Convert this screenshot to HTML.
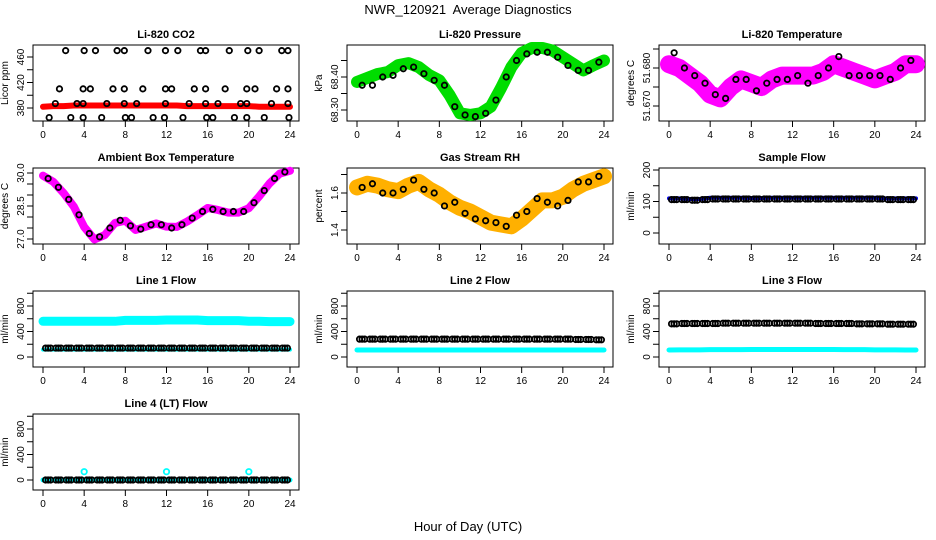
<!DOCTYPE html>
<html><head><meta charset="utf-8"><style>
body{margin:0;background:#fff}
svg{display:block;font-family:"Liberation Sans",sans-serif}
</style></head><body>
<svg id="c" width="936" height="540" viewBox="0 0 936 540">
<text x="468" y="14" text-anchor="middle" font-size="13">NWR_120921&#160; Average Diagnostics</text>
<text x="468" y="531" text-anchor="middle" font-size="13">Hour of Day (UTC)</text>
</svg>
<script>
// ---- data ----
const bandHours = [0,1,2,3,4,5,6,7,8,9,10,11,12,13,14,15,16,17,18,19,20,21,22,23,24];
const blackHours = [0.5,1.5,2.5,3.5,4.5,5.5,6.5,7.5,8.5,9.5,10.5,11.5,12.5,13.5,14.5,15.5,16.5,17.5,18.5,19.5,20.5,21.5,22.5,23.5];
const co2Band = [382,383,383,384,384,384,384,384,384,384,384,384,384,384,383,383,383,383,383,383,383,382,382,382,382];
const co2BlackX = [2.2,4.0,5.1,7.2,7.9,10.2,11.9,13.1,15.3,15.8,18.1,19.9,21.0,23.2,23.8,
 1.6,3.9,4.6,6.8,7.9,9.7,11.9,12.5,14.7,15.8,17.7,19.8,20.6,22.7,23.8,
 1.2,3.3,3.9,6.2,7.9,9.1,11.9,14.2,15.8,17.0,19.2,19.8,22.2,23.8,
 0.6,2.7,3.9,5.7,8.0,8.6,10.7,11.8,13.6,15.9,16.5,18.6,19.8,21.5,23.9];
const co2BlackY = [470,470,470,470,470,470,470,470,470,470,470,470,470,470,470,
 410,410,410,410,410,410,410,410,410,410,410,410,410,410,410,
 387,387,387,387,387,387,387,387,387,387,387,387,387,387,
 365,365,365,365,365,365,365,365,365,365,365,365,365,365,365];
const presBand = [68.385,68.397,68.409,68.415,68.436,68.442,68.43,68.406,68.39,68.345,68.29,68.285,68.29,68.31,68.367,68.43,68.473,68.488,68.488,68.48,68.46,68.44,68.42,68.436,68.45];
const presBlack = [68.375,68.375,68.40,68.405,68.425,68.43,68.41,68.39,68.375,68.31,68.285,68.28,68.29,68.33,68.40,68.45,68.47,68.475,68.475,68.46,68.435,68.42,68.42,68.445];
const tempBand = [51.681,51.680,51.678,51.676,51.673,51.672,51.675,51.677,51.676,51.675,51.677,51.678,51.678,51.678,51.678,51.679,51.681,51.680,51.679,51.678,51.677,51.678,51.679,51.681,51.681];
const tempBlack = [51.684,51.680,51.678,51.676,51.673,51.672,51.677,51.677,51.674,51.676,51.677,51.677,51.678,51.676,51.678,51.680,51.683,51.678,51.678,51.678,51.678,51.677,51.680,51.682];
const ambBand = [29.88,29.6,29.09,28.47,27.55,26.98,27.18,27.73,27.83,27.41,27.56,27.71,27.56,27.55,27.79,28.09,28.41,28.32,28.2,28.2,28.4,28.93,29.52,29.97,30.1];
const ambBlack = [29.75,29.35,28.8,28.1,27.25,27.1,27.5,27.85,27.6,27.45,27.65,27.65,27.5,27.65,27.95,28.25,28.35,28.25,28.25,28.25,28.65,29.2,29.75,30.05];
const rhBand = [1.63,1.65,1.64,1.62,1.61,1.64,1.66,1.62,1.59,1.55,1.52,1.5,1.47,1.44,1.43,1.42,1.46,1.51,1.56,1.56,1.58,1.62,1.65,1.67,1.69];
const rhBlack = [1.63,1.65,1.6,1.6,1.62,1.67,1.62,1.6,1.53,1.55,1.49,1.46,1.45,1.44,1.42,1.48,1.5,1.57,1.55,1.53,1.56,1.66,1.66,1.69];
const sampleBand = [110,110,108,108,112,112,112,112,111,111,112,112,112,112,112,112,112,112,112,112,112,110,110,110,110];
const sampleBlack = [106,106,104,106,108,108,108,108,108,108,108,108,108,108,108,108,108,108,108,108,108,106,106,106];
const line1High = [560,560,560,560,560,560,560,560,575,575,575,575,580,580,580,580,570,570,570,570,560,560,555,555,555];
const line1Low = [115,115,115,115,115,115,115,115,115,115,115,115,115,115,115,115,115,115,115,115,115,115,115,115,115];
const line1Black = [140,140,140,140,140,140,140,140,140,140,140,140,140,140,140,140,140,140,140,140,140,140,140,140];
const line2Cyan = [110,110,110,110,110,110,110,110,110,110,110,110,110,110,110,110,110,110,110,110,110,110,110,110,110];
const line2Black = [280,280,280,280,280,280,280,280,280,280,280,280,280,280,280,280,280,280,280,280,280,275,275,270];
const line3Cyan = [110,112,112,112,115,115,115,115,118,118,118,118,118,118,118,118,118,115,115,115,112,112,112,110,110];
const line3Black = [520,525,525,525,525,530,530,530,530,530,530,530,530,530,525,525,525,525,520,520,520,515,515,515];
const line4Cyan = [0,0,0,0,0,0,0,0,0,0,0,0,0,0,0,0,0,0,0,0,0,0,0,0,0];
const line4Black = [0,0,0,0,0,0,0,0,0,0,0,0,0,0,0,0,0,0,0,0,0,0,0,0];
const line4SpikeX = [4,12,20];
const line4SpikeY = [130,130,130];
const xTicks = [0,4,8,12,16,20,24];

// ---- drawing ----
const svg = document.getElementById('c');
const NS = 'http://www.w3.org/2000/svg';
const colLeft = [33,347,659], rowTop = [45,168,291,414], BW = 266, BH = 76;
function mk(tag, attrs, parent){
  const e = document.createElementNS(NS, tag);
  for (const k in attrs) e.setAttribute(k, attrs[k]);
  (parent||svg).appendChild(e); return e;
}
function panel(key, title, col, row, ylab, v1, o1, v2, o2, ticks, labels){
  const bx = colLeft[col], by = rowTop[row];
  const g = mk('g', {});
  
  
  const sx = h => bx + 10 + h * 247 / 24;
  const sy = v => by + o1 + (v - v1) * (o2 - o1) / (v2 - v1);
  const box = mk('rect', {x:bx, y:by, width:BW, height:BH, fill:'none', stroke:'#000', 'stroke-width':1}, g);
  
  
  const t = mk('text', {x:bx+BW/2, y:by-7, 'text-anchor':'middle', 'font-size':11, 'font-weight':'bold'}, g);
  t.textContent = title;
  
  
  const yl = mk('text', {transform:`translate(${bx-25},${by+BH/2}) rotate(-90)`, 'text-anchor':'middle', 'font-size':10}, g);
  yl.textContent = ylab;
  
  
  const xa = mk('g', {}, g);
  
  
  xTicks.forEach(h => {
    mk('line', {x1:sx(h), x2:sx(h), y1:by+BH, y2:by+BH+6, stroke:'#000'}, xa);
    const tx = mk('text', {x:sx(h), y:by+BH+17, 'text-anchor':'middle', 'font-size':10}, xa);
    tx.textContent = h;
  });
  const ya = mk('g', {}, g);
  
  
  ticks.forEach(v => mk('line', {x1:bx-6, x2:bx, y1:sy(v), y2:sy(v), stroke:'#000'}, ya));
  labels.forEach(v => {
    const tx = mk('text', {transform:`translate(${bx-9},${sy(parseFloat(v))}) rotate(-90)`, 'text-anchor':'middle', 'font-size':10}, ya);
    tx.textContent = v;
  });
  return {g, sx, sy};
}
function band(p, hours, vals, color, w, name){
  const pl = mk('polyline', {points: hours.map((h,i)=>p.sx(h)+','+p.sy(vals[i])).join(' '), fill:'none', stroke:color, 'stroke-width':w, 'stroke-linejoin':'round', 'stroke-linecap':'round'}, p.g);
  
  
}
function dots(p, xs, ys, color, name, offs){
  const g = mk('g', {}, p.g);
  
  
  (offs||[0]).forEach(o => xs.forEach((h,i) => mk('circle', {cx:p.sx(h+o), cy:p.sy(ys[i]), r:2.7, fill:'none', stroke:color, 'stroke-width':1.8}, g)));
}

let p;
p = panel('co2','Li-820 CO2',0,0,'Licor ppm',460,12,380,63,[380,400,420,440,460],['380','420','460']);
band(p,bandHours,co2Band,'#ff0000',6,'co2-band');
dots(p,co2BlackX,co2BlackY,'#000','co2-points');

p = panel('pressure','Li-820 Pressure',1,0,'kPa',68.40,32,68.30,65,[68.30,68.35,68.40,68.45],['68.30','68.40']);
band(p,bandHours,presBand,'#00dd00',12,'pressure-band');
dots(p,blackHours,presBlack,'#000','pressure-points');

p = panel('temperature','Li-820 Temperature',2,0,'degrees C',51.680,23,51.670,61,[51.670,51.675,51.680,51.685],['51.670','51.680']);
band(p,bandHours,tempBand,'#ff00ff',18,'temperature-band');
dots(p,blackHours,tempBlack,'#000','temperature-points');

p = panel('ambient','Ambient Box Temperature',0,1,'degrees C',30,5,27,71,[27,27.5,28,28.5,29,29.5,30],['27.0','28.5','30.0']);
band(p,bandHours,ambBand,'#ff00ff',8,'ambient-band');
dots(p,blackHours,ambBlack,'#000','ambient-points');

p = panel('rh','Gas Stream RH',1,1,'percent',1.6,25,1.4,62,[1.4,1.5,1.6,1.7],['1.4','1.6']);
band(p,bandHours,rhBand,'#ffb000',16,'rh-band');
dots(p,blackHours,rhBlack,'#000','rh-points');

p = panel('sample','Sample Flow',2,1,'ml/min',200,2,0,65,[0,50,100,150,200],['0','100','200']);
band(p,bandHours,sampleBand,'#0000ee',4,'sample-band');
dots(p,blackHours,sampleBlack,'#000','sample-points',[-0.25,0,0.25]);

const flowTicks=[0,200,400,600,800,1000], flowLabels=['0','400','800'];
p = panel('line1','Line 1 Flow',0,2,'ml/min',0,66,800,15,flowTicks,flowLabels);
band(p,bandHours,line1High,'#00ffff',9,'line1-high-band');
band(p,bandHours,line1Low,'#00ffff',4,'line1-low-band');
dots(p,blackHours,line1Black,'#000','line1-points',[-0.25,0,0.25]);

p = panel('line2','Line 2 Flow',1,2,'ml/min',0,66,800,15,flowTicks,flowLabels);
band(p,bandHours,line2Cyan,'#00ffff',5,'line2-band');
dots(p,blackHours,line2Black,'#000','line2-points',[-0.25,0,0.25]);

p = panel('line3','Line 3 Flow',2,2,'ml/min',0,66,800,15,flowTicks,flowLabels);
band(p,bandHours,line3Cyan,'#00ffff',5,'line3-band');
dots(p,blackHours,line3Black,'#000','line3-points',[-0.25,0,0.25]);

p = panel('line4','Line 4 (LT) Flow',0,3,'ml/min',0,66,800,15,flowTicks,flowLabels);
band(p,bandHours,line4Cyan,'#00ffff',5,'line4-band');
dots(p,line4SpikeX,line4SpikeY,'#00ffff','line4-spikes');
dots(p,blackHours,line4Black,'#000','line4-points',[-0.25,0,0.25]);
</script>
</body></html>
